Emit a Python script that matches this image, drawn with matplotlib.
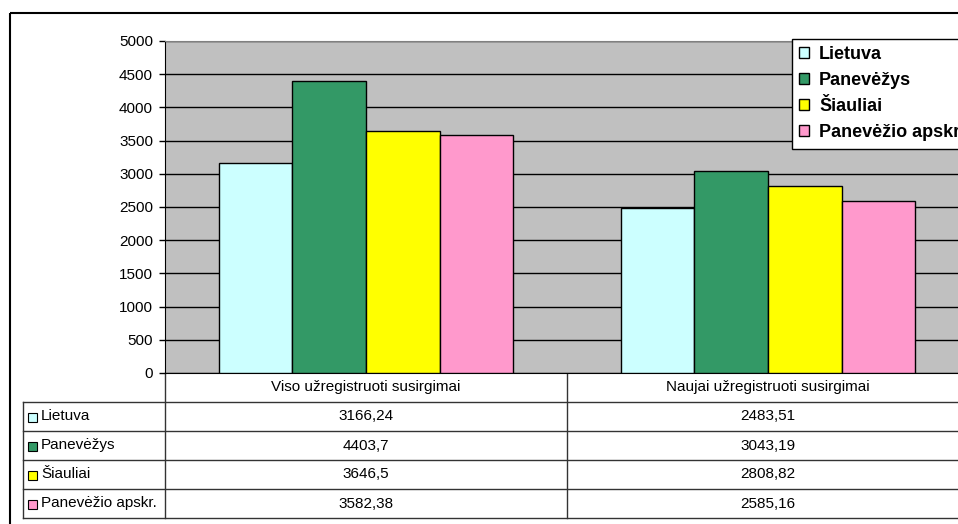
import matplotlib.pyplot as plt
from matplotlib.patches import Rectangle

plt.rcParams['font.family'] = ['Liberation Sans', 'DejaVu Sans']

categories = ["Viso užregistruoti susirgimai", "Naujai užregistruoti susirgimai"]
series_names = ["Lietuva", "Panevėžys", "Šiauliai", "Panevėžio apskr."]
values = {
    "Lietuva": [3166.24, 2483.51],
    "Panevėžys": [4403.7, 3043.19],
    "Šiauliai": [3646.5, 2808.82],
    "Panevėžio apskr.": [3582.38, 2585.16],
}
value_labels = {
    "Lietuva": ["3166,24", "2483,51"],
    "Panevėžys": ["4403,7", "3043,19"],
    "Šiauliai": ["3646,5", "2808,82"],
    "Panevėžio apskr.": ["3582,38", "2585,16"],
}
colors = ["#CCFFFF", "#339966", "#FFFF00", "#FF99CC"]
y_ticks = [0, 500, 1000, 1500, 2000, 2500, 3000, 3500, 4000, 4500, 5000]

W, H = 958, 524
fig = plt.figure(figsize=(W / 100, H / 100), dpi=100)

# layout in pixels
px_left, px_right, px_top, px_bottom = 165, 969, 41, 373
ax = fig.add_axes([px_left / W, 1 - px_bottom / H,
                   (px_right - px_left) / W, (px_bottom - px_top) / H])
ax.set_facecolor("#C0C0C0")

bar_w = 0.183
n = len(series_names)
for i, (name, c) in enumerate(zip(series_names, colors)):
    xs = [k + (i - (n - 1) / 2) * bar_w for k in range(len(categories))]
    ax.bar(xs, values[name], width=bar_w, color=c, edgecolor="black",
           linewidth=1, label=name, zorder=3)

ax.set_xlim(-0.5, len(categories) - 0.5)
ax.set_ylim(0, 5000)
ax.set_yticks(y_ticks)
ax.set_yticklabels([str(t) for t in y_ticks], fontsize=11)
ax.tick_params(axis="y", length=4.3, width=1, color="black", pad=4.3)
ax.set_xticks([])
ax.grid(axis="y", color="black", linewidth=1, zorder=1)
for s in ["top", "right"]:
    ax.spines[s].set_color("#808080")
ax.spines["left"].set_color("black")
ax.spines["bottom"].set_color("black")

leg = fig.legend(loc="upper left", bbox_to_anchor=(792 / W, 1 - 39 / H),
                 prop={"weight": "bold", "size": 13}, frameon=True, fancybox=False,
                 handlelength=0.55, handleheight=0.55, handletextpad=0.55,
                 labelspacing=0.5, borderpad=0.4, borderaxespad=0)
leg.get_frame().set_edgecolor("black")
leg.get_frame().set_linewidth(1)
leg.get_frame().set_alpha(1)

# overlay for chart border and data table (pixel coordinates)
ov = fig.add_axes([0, 0, 1, 1], zorder=-1)
ov.set_xlim(0, W)
ov.set_ylim(H, 0)
ov.axis("off")
ov.add_patch(Rectangle((10, 13), 1000, 520, fill=False, edgecolor="black", linewidth=1.5))

tab_left = 23
row_h = 29
cat_w = (px_right - px_left) / len(categories)
col_edges = [px_left + k * cat_w for k in range(len(categories) + 1)]
rows_top = px_bottom
lc = "#333333"

# header row
ov.plot([px_left, px_left], [rows_top, rows_top + row_h * (n + 1)], color=lc, lw=1)
for k, cat in enumerate(categories):
    ov.plot([col_edges[k + 1]] * 2, [rows_top, rows_top + row_h * (n + 1)], color=lc, lw=1)
    ov.text((col_edges[k] + col_edges[k + 1]) / 2, rows_top + row_h / 2, cat,
            ha="center", va="center", fontsize=11)
ov.plot([tab_left, px_right], [rows_top + row_h] * 2, color=lc, lw=1)
ov.plot([tab_left, tab_left], [rows_top + row_h, rows_top + row_h * (n + 1)], color=lc, lw=1)

for i, (name, c) in enumerate(zip(series_names, colors)):
    y0 = rows_top + row_h * (i + 1)
    yc = y0 + row_h / 2
    ov.plot([tab_left, px_right], [y0 + row_h] * 2, color=lc, lw=1)
    ov.add_patch(Rectangle((28, yc - 4), 9, 9, facecolor=c, edgecolor="black", lw=0.8))
    ov.text(41, yc, name, ha="left", va="center", fontsize=11)
    for k in range(len(categories)):
        ov.text((col_edges[k] + col_edges[k + 1]) / 2, yc, value_labels[name][k],
                ha="center", va="center", fontsize=11)

fig.savefig("out.png", dpi=100)
